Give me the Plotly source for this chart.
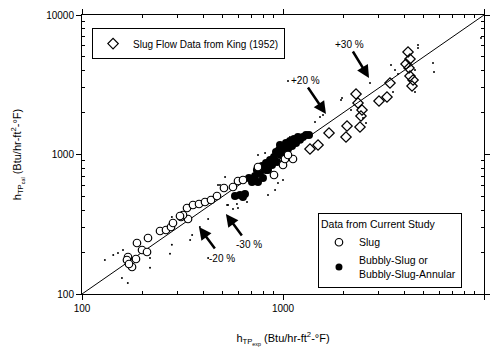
import numpy as np
import plotly.graph_objects as go

# King (1952) slug flow data (open diamonds)
king_exp = [4188, 4283, 4236, 4283, 4435, 4384, 4093, 3406, 3291, 3003, 2308, 2361,
            2472, 2443, 2415, 2082, 2058, 1694, 1494, 1362]
king_cal = [5430, 4838, 4171, 3654, 3420, 3097, 4455, 3254, 2584, 2418, 2715, 2340,
            2084, 1888, 1575, 1601, 1335, 1426, 1170, 1095]

# Current study - slug (open circles)
slug_exp = [169.4, 177.4, 167.4, 185.6, 187.7, 198.9, 210.6, 213.0, 244.4, 261.8, 277.2,
            283.6, 310.9, 333.0, 336.9, 318.1, 356.6, 382.1, 409.3, 438.4, 469.4, 508.6,
            563.8, 597.1, 632.4, 902.0, 1000, 1121, 1023, 1059, 307.3, 171.3, 751]
slug_cal = [184.2, 156.1, 175.3, 178.2, 232.1, 206.8, 200.0, 252.0, 282.8, 287.5, 302.1,
            322.8, 356.5, 413.5, 344.8, 368.3, 434.5, 441.8, 456.5, 471.9, 504.1, 575.4,
            584.8, 645.7, 656.5, 712.9, 840.8, 928.4, 928.4, 992, 362.4, 164.1, 813.5]

# Current study - bubbly-slug / bubbly-slug-annular (filled circles)
bub_exp = [577, 611, 647, 632, 677, 701, 726, 742, 768, 786, 795, 823, 842, 862, 882, 902,
           923, 934, 955, 977, 1000, 1012, 1035, 1059, 1083, 1109, 1134, 1161, 1187, 1215,
           1257, 1301, 1347, 966, 823, 751]
bub_cal = [504, 513, 521, 496, 679, 635, 701, 774, 737, 827, 679, 869, 774, 913, 841, 960,
           1042, 884, 1078, 992, 1151, 1042, 1209, 1095, 1250, 1151, 1291, 1209, 1335, 1274,
           1335, 1380, 1380, 1170, 774, 635]

# small scattered dots
dot_exp = [130, 143, 151, 160, 158, 169, 218, 218, 274, 280, 280, 345, 424, 386, 353, 424,
           486, 527, 564, 590, 625, 515, 475, 533, 597, 662, 709, 842, 913, 944, 1000, 751,
           814, 842, 1083, 1174, 1443, 1528, 1581, 1966, 1944, 2179, 2500, 2588, 2709, 3446,
           3608, 3527, 3734, 4537, 4537, 4696, 4696, 5577, 5641, 9663, 1059]
dot_cal = [175, 190, 197, 207, 130, 120, 181, 154, 194, 225, 357, 244, 181, 302, 265, 345,
           605, 435, 407, 442, 668, 690, 605, 435, 414, 457, 635, 513, 557, 625, 657, 992,
           1025, 774, 1335, 1380, 1710, 1857, 1920, 2541, 2459, 2084, 1827, 1682, 3254, 4382,
           4034, 2805, 3778, 4034, 2805, 6094, 5799, 4529, 3904, 6841, 3365]

# perfect-agreement line
line_v = [100, 10000]

# arrow annotations: label, text position, arrow tail, arrow head (data units)
arrow_labels = ["+30 %", "+20 %", "-20 %", "-30 %"]
arrow_text = [(2154, 6196), (1301, 3420), (497, 181), (677, 225)]
arrow_tail = [(2204, 5613), (1316, 3097), (464, 207), (632, 256)]
arrow_head = [(2679, 3535), (1636, 1951), (382, 302), (520, 375)]

major_ticks = [100, 1000, 10000]
minor_ticks = [m * d for d in (100, 1000) for m in range(2, 10)]

FONT = "Liberation Sans, Arial, sans-serif"

fig = go.Figure()
fig.add_trace(go.Scatter(x=line_v, y=line_v, mode="lines",
                         line=dict(color="black", width=1), showlegend=False,
                         hoverinfo="skip"))
fig.add_trace(go.Scatter(x=dot_exp, y=dot_cal, mode="markers",
                         marker=dict(color="black", size=2), showlegend=False))
fig.add_trace(go.Scatter(x=king_exp, y=king_cal, mode="markers",
                         name="Slug Flow Data from King (1952)",
                         marker=dict(symbol="diamond-open", size=8, color="black",
                                     line=dict(width=1.2)), legend="legend"))
fig.add_trace(go.Scatter(x=bub_exp, y=bub_cal, mode="markers", showlegend=False,
                         marker=dict(symbol="circle", size=8, color="black")))
fig.add_trace(go.Scatter(x=slug_exp, y=slug_cal, mode="markers", name="Slug",
                         marker=dict(symbol="circle", size=7.5, color="white",
                                     line=dict(color="black", width=1.2)),
                         legend="legend2"))
fig.add_trace(go.Scatter(x=[None], y=[None], mode="markers",
                         name="Bubbly-Slug or<br>Bubbly-Slug-Annular",
                         marker=dict(symbol="circle", size=7, color="black"),
                         legend="legend2"))

annotations = []
for lab, t, tl, hd in zip(arrow_labels, arrow_text, arrow_tail, arrow_head):
    annotations.append(dict(x=np.log10(hd[0]), y=np.log10(hd[1]),
                            ax=np.log10(tl[0]), ay=np.log10(tl[1]),
                            xref="x", yref="y", axref="x", ayref="y",
                            text="", showarrow=True, arrowhead=2, arrowsize=1,
                            arrowwidth=2.5, arrowcolor="black"))
    annotations.append(dict(x=np.log10(t[0]), y=np.log10(t[1]), xref="x", yref="y",
                            text=lab, showarrow=False,
                            font=dict(family=FONT, size=10, color="black")))

axis_common = dict(type="log", range=[2, 4], tickvals=major_ticks,
                   ticktext=[str(v) for v in major_ticks],
                   ticks="outside", ticklen=5, tickcolor="black", tickwidth=1,
                   showline=True, linecolor="black", linewidth=1, mirror="ticks",
                   showgrid=False, zeroline=False, automargin=False,
                   tickfont=dict(family=FONT, size=10, color="black"),
                   minor=dict(tickvals=minor_ticks, ticks="inside", ticklen=3,
                              tickcolor="black", showgrid=False))

fig.update_layout(
    width=497, height=347,
    margin=dict(l=82, r=13, t=15, b=53),
    paper_bgcolor="white", plot_bgcolor="white",
    font=dict(family=FONT, size=10, color="black"),
    xaxis=dict(**axis_common,
               title=dict(text="h<sub>TP<sub>exp</sub></sub> (Btu/hr-ft<sup>2</sup>-°F)",
                          font=dict(family=FONT, size=11), standoff=21)),
    yaxis=dict(**axis_common,
               title=dict(text="h<sub>TP<sub>cal</sub></sub> (Btu/hr-ft<sup>2</sup>-°F)",
                          font=dict(family=FONT, size=11), standoff=22)),
    legend=dict(x=0.025, y=0.953, xanchor="left", yanchor="top",
                bordercolor="black", borderwidth=1, bgcolor="white",
                font=dict(family=FONT, size=10), itemclick=False),
    legend2=dict(x=0.587, y=0.29, xanchor="left", yanchor="top",
                 bordercolor="black", borderwidth=1, bgcolor="white",
                 title=dict(text="Data from Current Study" + "\u00a0" * 6, side="top",
                            font=dict(family=FONT, size=10.5)),
                 font=dict(family=FONT, size=10.5), tracegroupgap=0),
    annotations=annotations,
    showlegend=True,
)

fig.write_html("out.html")
